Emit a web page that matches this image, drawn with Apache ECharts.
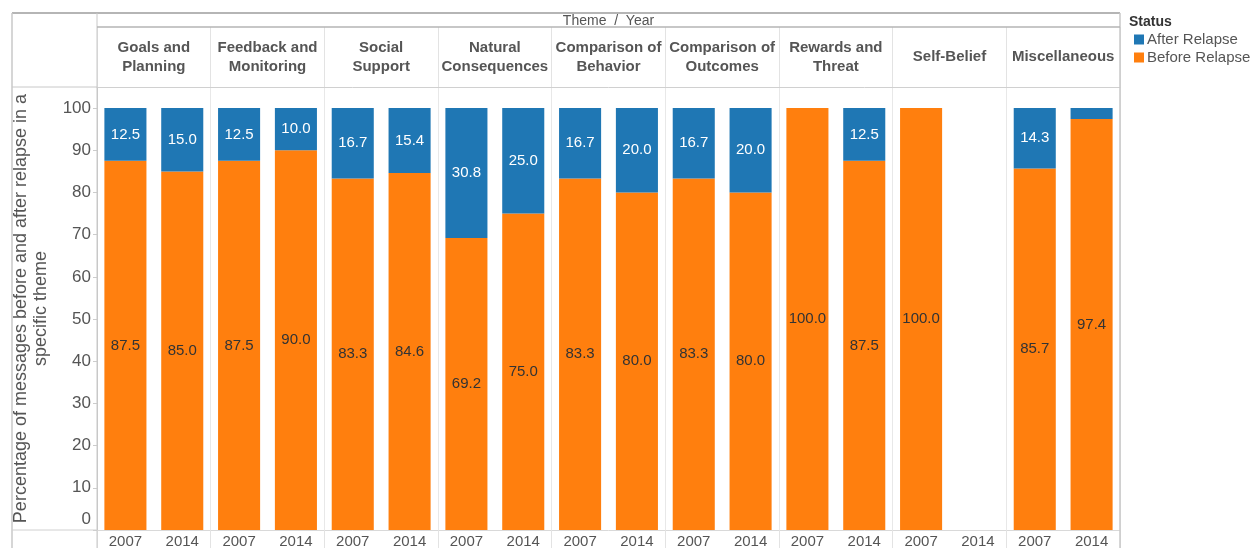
<!DOCTYPE html>
<html>
<head>
<meta charset="utf-8">
<script src="https://cdn.jsdelivr.net/npm/echarts@6/dist/echarts.min.js"></script>
<style>
html,body{margin:0;padding:0;background:#fff;}
#chart{width:1257px;height:548px;}
</style>
</head>
<body>
<div id="chart"></div>
<script>
// ---- data ----
const themes = ['Goals and\nPlanning', 'Feedback and\nMonitoring', 'Social\nSupport', 'Natural\nConsequences',
  'Comparison of\nBehavior', 'Comparison of\nOutcomes', 'Rewards and\nThreat', 'Self-Belief', 'Miscellaneous'];
const years = ['2007', '2014'];
const beforeRelapse = [87.5, 85.0, 87.5, 90.0, 83.3, 84.6, 69.2, 75.0, 83.3, 80.0, 83.3, 80.0, 100.0, 87.5, 100.0, null, 85.7, 97.4];
const afterRelapse  = [12.5, 15.0, 12.5, 10.0, 16.7, 15.4, 30.8, 25.0, 16.7, 20.0, 16.7, 20.0, 0, 12.5, 0, null, 14.3, 2.6];
const yTicks = [0, 10, 20, 30, 40, 50, 60, 70, 80, 90, 100];

// ---- layout ----
const W = 1257, H = 548;
const L = 97, R = 1120, TOP = 87, BOT = 530;
const FRAME_L = 12, FRAME_T = 13, HEAD_T = 27;
const FONT = 'Liberation Sans, Arial, sans-serif';
const TXT = '#555';

const cats = [];
themes.forEach(t => years.forEach(y => cats.push(t + '|' + y)));
const pairBoundary = (i) => i % 2 === 0;

const chart = echarts.init(document.getElementById('chart'), null, {renderer: 'canvas'});
const option = {
  animation: false,
  textStyle: {fontFamily: FONT},
  grid: {left: L, right: W - R, top: TOP, bottom: H - BOT, containLabel: false, outerBoundsMode: 'none'},
  legend: {
    orient: 'vertical', left: 1129, top: 27, itemWidth: 10, itemHeight: 10, itemGap: 3,
    icon: 'rect', data: ['After Relapse', 'Before Relapse'],
    textStyle: {color: TXT, fontSize: 15, fontFamily: FONT, padding: [0, 0, 0, -2]}
  },
  xAxis: [
    {
      type: 'category', data: cats, position: 'bottom', gridIndex: 0,
      axisLine: {show: true, lineStyle: {color: '#d9d9d9'}},
      axisTick: {show: true, interval: pairBoundary, length: 18, lineStyle: {color: '#e3e3e3'}},
      axisLabel: {interval: 0, color: TXT, fontSize: 15, margin: 4, formatter: v => v.split('|')[1]},
      splitLine: {show: true, interval: pairBoundary, lineStyle: {color: '#e8e8e8'}}
    },
    {
      type: 'category', data: themes, position: 'top', gridIndex: 0,
      axisLine: {show: true, lineStyle: {color: '#d0d0d0'}},
      axisTick: {show: true, interval: 0, length: TOP - HEAD_T, lineStyle: {color: '#e3e3e3'}},
      axisLabel: {interval: 0, color: TXT, fontSize: 15, fontWeight: 'bold', lineHeight: 19,
        margin: 30, verticalAlign: 'middle', align: 'center'},
      splitLine: {show: false}
    }
  ],
  yAxis: {
    type: 'value', min: 0, max: 105,
    name: 'Percentage of messages before and after relapse in a\nspecific theme',
    nameLocation: 'middle', nameRotate: 90, nameGap: 46,
    nameTextStyle: {color: TXT, fontSize: 18, lineHeight: 20, fontFamily: FONT},
    axisLine: {show: true, lineStyle: {color: '#c8c8c8'}},
    axisTick: {show: true, length: 4, customValues: yTicks, lineStyle: {color: '#cccccc'}},
    axisLabel: {customValues: yTicks, color: TXT, fontSize: 17, margin: 6,
      formatter: v => v === 0 ? '{z|0}' : String(v),
      rich: {z: {color: TXT, fontSize: 17, padding: [0, 0, 22, 0]}}},
    splitLine: {show: false}
  },
  series: [
    {
      name: 'Before Relapse', type: 'bar', stack: 's', xAxisIndex: 0, barWidth: '74%',
      itemStyle: {color: '#ff7f0e'},
      label: {show: true, position: 'inside', color: '#333', fontSize: 15, fontFamily: FONT,
        formatter: p => (p.value == null || p.value < 5) ? '' : Number(p.value).toFixed(1)},
      data: beforeRelapse
    },
    {
      name: 'After Relapse', type: 'bar', stack: 's', xAxisIndex: 0, barWidth: '74%',
      itemStyle: {color: '#1f77b4'},
      label: {show: true, position: 'inside', color: '#fff', fontSize: 15, fontFamily: FONT,
        formatter: p => (p.value == null || p.value < 5) ? '' : Number(p.value).toFixed(1)},
      data: afterRelapse
    }
  ],
  graphic: [
    // top-left empty header cell (covers clipped axis title)
    {type: 'rect', z: 100, shape: {x: FRAME_L, y: 0, width: L - FRAME_L, height: TOP},
      style: {fill: '#fff', stroke: null}},
    // outer frame lines
    {type: 'line', z: 101, shape: {x1: FRAME_L, y1: FRAME_T, x2: R, y2: FRAME_T}, style: {stroke: '#b5b5b5', lineWidth: 2}},
    {type: 'line', z: 101, shape: {x1: FRAME_L, y1: FRAME_T, x2: FRAME_L, y2: H}, style: {stroke: '#c8c8c8', lineWidth: 1.5}},
    {type: 'line', z: 101, shape: {x1: R, y1: FRAME_T, x2: R, y2: H}, style: {stroke: '#c8c8c8', lineWidth: 1.5}},
    {type: 'line', z: 101, shape: {x1: L, y1: FRAME_T, x2: L, y2: H}, style: {stroke: '#c8c8c8', lineWidth: 1}},
    {type: 'line', z: 101, shape: {x1: L, y1: HEAD_T, x2: R, y2: HEAD_T}, style: {stroke: '#b5b5b5', lineWidth: 1.5}},
    {type: 'line', z: 101, shape: {x1: FRAME_L, y1: TOP, x2: L, y2: TOP}, style: {stroke: '#c8c8c8', lineWidth: 1}},
    {type: 'line', z: 101, shape: {x1: FRAME_L, y1: BOT, x2: L, y2: BOT}, style: {stroke: '#d0d0d0', lineWidth: 1}},
    // header title
    {type: 'text', z: 101, x: (L + R) / 2, y: (FRAME_T + HEAD_T) / 2 + 1,
      style: {text: 'Theme  /  Year', fill: TXT, font: '14px ' + FONT, align: 'center', verticalAlign: 'middle'}},
    // legend title
    {type: 'text', z: 101, x: 1129, y: 22,
      style: {text: 'Status', fill: '#333', font: 'bold 14px ' + FONT, align: 'left', verticalAlign: 'middle'}}
  ]
};
chart.setOption(option);
</script>
</body>
</html>
